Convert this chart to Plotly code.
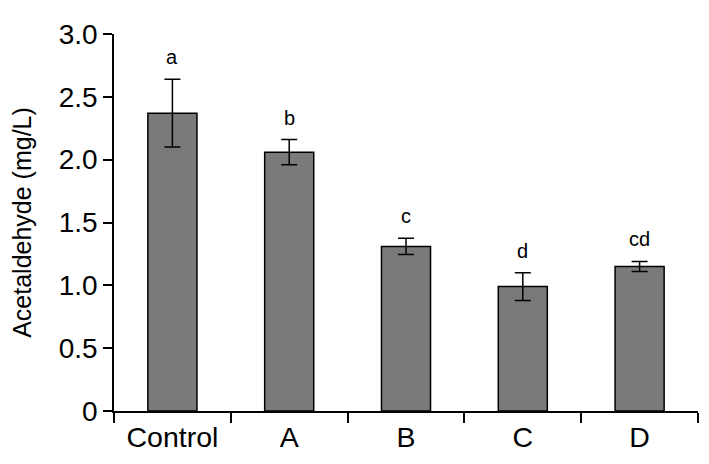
import plotly.graph_objects as go

groups = ["Control", "A", "B", "C", "D"]
acetaldehyde = [2.37, 2.06, 1.31, 0.99, 1.15]
errors = [0.27, 0.10, 0.065, 0.11, 0.04]
letters = ["a", "b", "c", "d", "cd"]

y_ticks = [0, 0.5, 1.0, 1.5, 2.0, 2.5, 3.0]
y_tick_labels = ["0", "0.5", "1.0", "1.5", "2.0", "2.5", "3.0"]

font_name = "Liberation Sans, Arial, sans-serif"

fig = go.Figure()
fig.add_trace(go.Bar(
    x=groups, y=acetaldehyde,
    marker=dict(color="#7a7a7a", line=dict(color="black", width=1.5)),
    error_y=dict(type="data", array=errors, color="black", thickness=1.5, width=8),
    width=0.42,
))

# significance letters above the error bars
for g, v, e, lt in zip(groups, acetaldehyde, errors, letters):
    fig.add_annotation(x=g, y=v + e, text=lt, showarrow=False,
                       yanchor="bottom", yshift=9,
                       font=dict(size=20, color="black", family=font_name))

# page body adds an 8px offset, so the figure is sized to fit 709x464
fig.update_layout(
    width=701, height=456,
    margin=dict(l=106, r=11, t=12, b=51),
    plot_bgcolor="white", paper_bgcolor="white",
    showlegend=False,
    font=dict(family=font_name, color="black", size=28),
)
fig.update_xaxes(
    showline=True, linecolor="black", linewidth=1.5,
    ticks="outside", tickson="boundaries", ticklen=10, tickwidth=1.5, tickcolor="black",
    tickfont=dict(size=28.5), showgrid=False, range=[-0.5, 4.5],
)
fig.update_yaxes(
    range=[0, 3.0], tickvals=y_ticks, ticktext=y_tick_labels,
    showline=True, linecolor="black", linewidth=1.5,
    ticks="outside", ticklen=9, tickwidth=1.5, tickcolor="black",
    tickfont=dict(size=28), showgrid=False, zeroline=False,
    ticklabeloverflow="allow",
    title=dict(text="Acetaldehyde (mg/L)", font=dict(size=25), standoff=22),
)

fig.write_html("out.html")
